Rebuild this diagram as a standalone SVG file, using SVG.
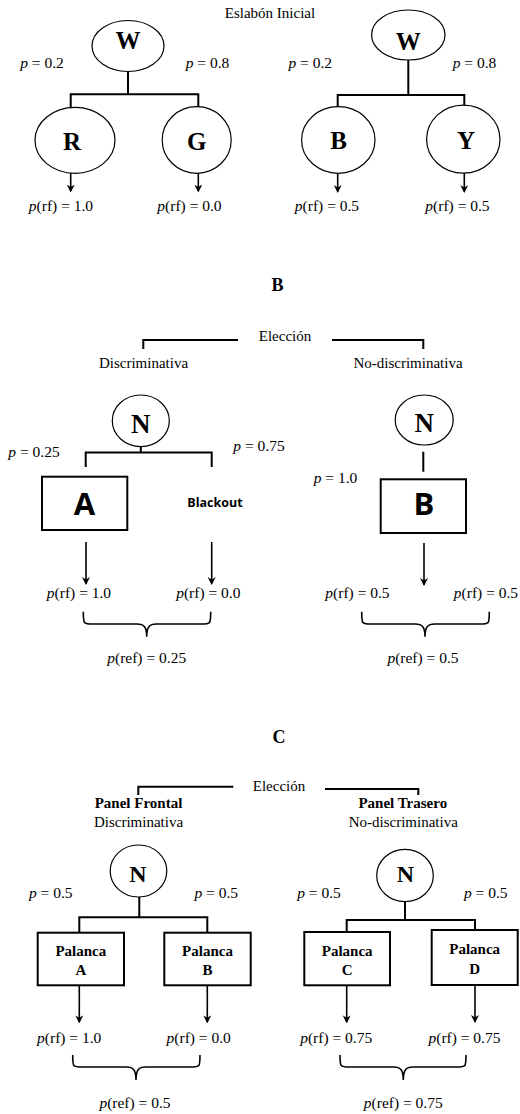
<svg xmlns="http://www.w3.org/2000/svg" width="520" height="1114" viewBox="0 0 520 1114">
  <style>
    text { font-family: "Liberation Serif", "Times New Roman", serif; fill: #000; }
    .w { font-size: 15px; }
    .f { font-size: 15.5px; }
    .i { font-style: italic; }
    .hb { font-weight: bold; }
    .big { font-size: 25px; font-weight: bold; }
    .sans { font-family: "Open Sans", "Liberation Sans", sans-serif; font-weight: bold; }
    .m { text-anchor: middle; }
    .ell { fill: #fff; stroke: #000; stroke-width: 1.2; }
    .box { fill: #fff; stroke: #000; stroke-width: 2; }
    .ln { fill: none; stroke: #000; stroke-width: 2; }
    .arr { fill: none; stroke: #000; stroke-width: 1.6; marker-end: url(#head); }
    .brace { fill: none; stroke: #000; stroke-width: 1.6; }
  </style>
  <defs>
    <marker id="head" viewBox="0 0 10 10" refX="8" refY="5" markerWidth="8" markerHeight="8" markerUnits="userSpaceOnUse" orient="auto">
      <path d="M0,0 L10,5 L0,10 L3,5 z" fill="#000"/>
    </marker>
  </defs>

  <!-- ===== Panel A: initial link ===== -->
  <text class="w m" x="270" y="17.5">Eslabón Inicial</text>

  <g id="a-w-left">
    <ellipse class="ell" cx="128" cy="46" rx="36" ry="25.5"/>
    <text class="big m" x="128" y="48.5">W</text>
  </g>
  <g id="a-r">
    <ellipse class="ell" cx="75" cy="140.3" rx="40" ry="33"/>
    <text class="big m" x="72" y="150">R</text>
  </g>
  <g id="a-g">
    <ellipse class="ell" cx="196.7" cy="140" rx="34.5" ry="33.3"/>
    <text class="big m" x="196.7" y="150">G</text>
  </g>
  <g id="a-w-right">
    <ellipse class="ell" cx="408.3" cy="35" rx="36.7" ry="25"/>
    <text class="big m" x="408.3" y="49.5">W</text>
  </g>
  <g id="a-b">
    <ellipse class="ell" cx="338.3" cy="140" rx="36.7" ry="33.3"/>
    <text class="big m" x="338.7" y="149">B</text>
  </g>
  <g id="a-y">
    <ellipse class="ell" cx="463.3" cy="139.2" rx="36.7" ry="34"/>
    <text class="big m" x="466" y="149">Y</text>
  </g>

  <g id="a-connectors">
    <path class="ln" d="M128,71.5 V94.3 M70.7,94.3 H198.3 M70.7,93.3 V107.6 M198.3,93.3 V107"/>
    <path class="ln" d="M408.3,60 V95 M337.7,95 H464.3 M337.7,94 V106.8 M464.3,94 V105.3"/>
    <line class="arr" x1="70.7" y1="173" x2="70.7" y2="191"/>
    <line class="arr" x1="198.3" y1="173" x2="198.3" y2="191"/>
    <line class="arr" x1="337.7" y1="173" x2="337.7" y2="191.4"/>
    <line class="arr" x1="464.3" y1="173" x2="464.3" y2="191.4"/>
  </g>

  <g id="a-labels">
    <text class="f m" x="42" y="67.7"><tspan class="i">p</tspan> = 0.2</text>
    <text class="f m" x="207.5" y="67.7"><tspan class="i">p</tspan> = 0.8</text>
    <text class="f m" x="310.3" y="67.7"><tspan class="i">p</tspan> = 0.2</text>
    <text class="f m" x="474.5" y="67.7"><tspan class="i">p</tspan> = 0.8</text>
    <text class="f m" x="61" y="211"><tspan class="i">p</tspan>(rf) = 1.0</text>
    <text class="f m" x="189.5" y="211"><tspan class="i">p</tspan>(rf) = 0.0</text>
    <text class="f m" x="327" y="211"><tspan class="i">p</tspan>(rf) = 0.5</text>
    <text class="f m" x="457.5" y="211"><tspan class="i">p</tspan>(rf) = 0.5</text>
  </g>

  <!-- ===== Panel B ===== -->
  <text class="hb m" x="277.5" y="291" font-size="18">B</text>
  <text class="w m" x="285" y="341">Elección</text>
  <text class="w m" x="143.5" y="368">Discriminativa</text>
  <text class="w m" x="408" y="368">No-discriminativa</text>

  <g id="b-n-left">
    <ellipse class="ell" cx="140.8" cy="420.8" rx="28.5" ry="25.8"/>
    <text class="hb m" x="140.8" y="433" font-size="27">N</text>
  </g>
  <g id="b-a">
    <rect class="box" x="42" y="476.7" width="85.3" height="53.3"/>
    <text class="sans m" x="84.5" y="515" font-size="31">A</text>
  </g>
  <g id="b-blackout">
    <text class="sans m" x="215" y="507.3" font-size="12.5">Blackout</text>
  </g>
  <g id="b-n-right">
    <ellipse class="ell" cx="424.2" cy="420" rx="29" ry="25"/>
    <text class="hb m" x="424.2" y="431.5" font-size="27">N</text>
  </g>
  <g id="b-b">
    <rect class="box" x="380.7" y="479.3" width="85.3" height="53.7"/>
    <text class="sans m" x="424" y="515" font-size="31">B</text>
  </g>

  <g id="b-connectors">
    <path class="ln" d="M143.3,349 V340 H238 M332,340 H423.3 V349"/>
    <path class="ln" d="M140.8,446.6 V452.5 M85.7,452.5 H211.7 M85.7,451.5 V467 M211.7,451.5 V467"/>
    <path class="ln" d="M423.3,451.7 V471.7"/>
    <line class="arr" x1="86" y1="542" x2="86" y2="583.5"/>
    <line class="arr" x1="211.7" y1="542" x2="211.7" y2="583.5"/>
    <line class="arr" x1="424" y1="543" x2="424" y2="584.5"/>
    <path class="brace" d="M83.3,611.7 C83.3,624 83.3,624 93,624 H137 C144,624 146.7,627 146.7,636.7 C146.7,627 149.4,624 156.4,624 H201 C210.7,624 210.7,624 210.7,611.7"/>
    <path class="brace" d="M361.7,611.7 C361.7,624 361.7,624 371.4,624 H415.3 C422.3,624 425,627 425,636.7 C425,627 427.7,624 434.7,624 H479.6 C489.3,624 489.3,624 489.3,611.7"/>
  </g>

  <g id="b-labels">
    <text class="f m" x="34" y="456.7"><tspan class="i">p</tspan> = 0.25</text>
    <text class="f m" x="259" y="450.7"><tspan class="i">p</tspan> = 0.75</text>
    <text class="f m" x="335.5" y="483.3"><tspan class="i">p</tspan> = 1.0</text>
    <text class="f m" x="79" y="598.3"><tspan class="i">p</tspan>(rf) = 1.0</text>
    <text class="f m" x="208.3" y="598.3"><tspan class="i">p</tspan>(rf) = 0.0</text>
    <text class="f m" x="357.5" y="598.3"><tspan class="i">p</tspan>(rf) = 0.5</text>
    <text class="f m" x="486" y="598.3"><tspan class="i">p</tspan>(rf) = 0.5</text>
    <text class="f m" x="146.7" y="663.3"><tspan class="i">p</tspan>(ref) = 0.25</text>
    <text class="f m" x="423" y="663"><tspan class="i">p</tspan>(ref) = 0.5</text>
  </g>

  <!-- ===== Panel C ===== -->
  <text class="hb m" x="279" y="742.5" font-size="18">C</text>
  <text class="w m" x="279" y="791">Elección</text>
  <text class="w hb m" x="138.5" y="808">Panel Frontal</text>
  <text class="w m" x="138.5" y="826.7">Discriminativa</text>
  <text class="w hb m" x="402.8" y="807.5">Panel Trasero</text>
  <text class="w m" x="403.3" y="826.7">No-discriminativa</text>

  <g id="c-n-left">
    <ellipse class="ell" cx="138.5" cy="871" rx="28.3" ry="26"/>
    <text class="hb m" x="137.8" y="881.7" font-size="24">N</text>
  </g>
  <g id="c-n-right">
    <ellipse class="ell" cx="405" cy="875.5" rx="28.3" ry="26.2"/>
    <text class="hb m" x="405.5" y="881.7" font-size="24">N</text>
  </g>
  <g id="c-lever-a">
    <rect class="box" x="37.7" y="932.7" width="86.3" height="52.6"/>
    <text class="w hb m" x="80.8" y="956">Palanca</text>
    <text class="w hb m" x="80.8" y="975">A</text>
  </g>
  <g id="c-lever-b">
    <rect class="box" x="164.3" y="932.7" width="86.4" height="52.6"/>
    <text class="w hb m" x="207.5" y="956">Palanca</text>
    <text class="w hb m" x="207.5" y="975">B</text>
  </g>
  <g id="c-lever-c">
    <rect class="box" x="304.3" y="932" width="85.7" height="53.3"/>
    <text class="w hb m" x="347.2" y="956">Palanca</text>
    <text class="w hb m" x="347.2" y="975">C</text>
  </g>
  <g id="c-lever-d">
    <rect class="box" x="431.7" y="930" width="86" height="55"/>
    <text class="w hb m" x="474.7" y="953.5">Palanca</text>
    <text class="w hb m" x="474.7" y="973.5">D</text>
  </g>

  <g id="c-connectors">
    <path class="ln" d="M138.3,795 V786.7 H233.3 M325,789 H418.3 V795"/>
    <path class="ln" d="M139.3,897 V917.3 M79.3,917.3 H207.3 M79.3,916.3 V932.7 M207.3,916.3 V932.7"/>
    <path class="ln" d="M405,901.7 V920 M346.7,920 H475 M346.7,919 V932 M475,919 V930"/>
    <line class="arr" x1="79.3" y1="985.3" x2="79.3" y2="1021.8"/>
    <line class="arr" x1="207.3" y1="985.3" x2="207.3" y2="1021.8"/>
    <line class="arr" x1="346.7" y1="985.3" x2="346.7" y2="1021.8"/>
    <line class="arr" x1="475" y1="985" x2="475" y2="1021.5"/>
    <path class="brace" d="M72.7,1055 C72.7,1067 72.7,1067 82.4,1067 H126.3 C133.3,1067 136,1070 136,1080 C136,1070 138.7,1067 145.7,1067 H190.3 C200,1067 200,1067 200,1055"/>
    <path class="brace" d="M340,1055 C340,1067 340,1067 349.7,1067 H393.6 C400.6,1067 403.3,1070 403.3,1080 C403.3,1070 406,1067 413,1067 H456.3 C466,1067 466,1067 466,1055"/>
  </g>

  <g id="c-labels">
    <text class="f m" x="50.8" y="898.3"><tspan class="i">p</tspan> = 0.5</text>
    <text class="f m" x="216.3" y="898.3"><tspan class="i">p</tspan> = 0.5</text>
    <text class="f m" x="319" y="898.3"><tspan class="i">p</tspan> = 0.5</text>
    <text class="f m" x="485.8" y="898.3"><tspan class="i">p</tspan> = 0.5</text>
    <text class="f m" x="69.2" y="1042.7"><tspan class="i">p</tspan>(rf) = 1.0</text>
    <text class="f m" x="198.7" y="1042.7"><tspan class="i">p</tspan>(rf) = 0.0</text>
    <text class="f m" x="336.2" y="1042.7"><tspan class="i">p</tspan>(rf) = 0.75</text>
    <text class="f m" x="464.5" y="1042.7"><tspan class="i">p</tspan>(rf) = 0.75</text>
    <text class="f m" x="135" y="1107.5"><tspan class="i">p</tspan>(ref) = 0.5</text>
    <text class="f m" x="403.3" y="1107.5"><tspan class="i">p</tspan>(ref) = 0.75</text>
  </g>
</svg>
